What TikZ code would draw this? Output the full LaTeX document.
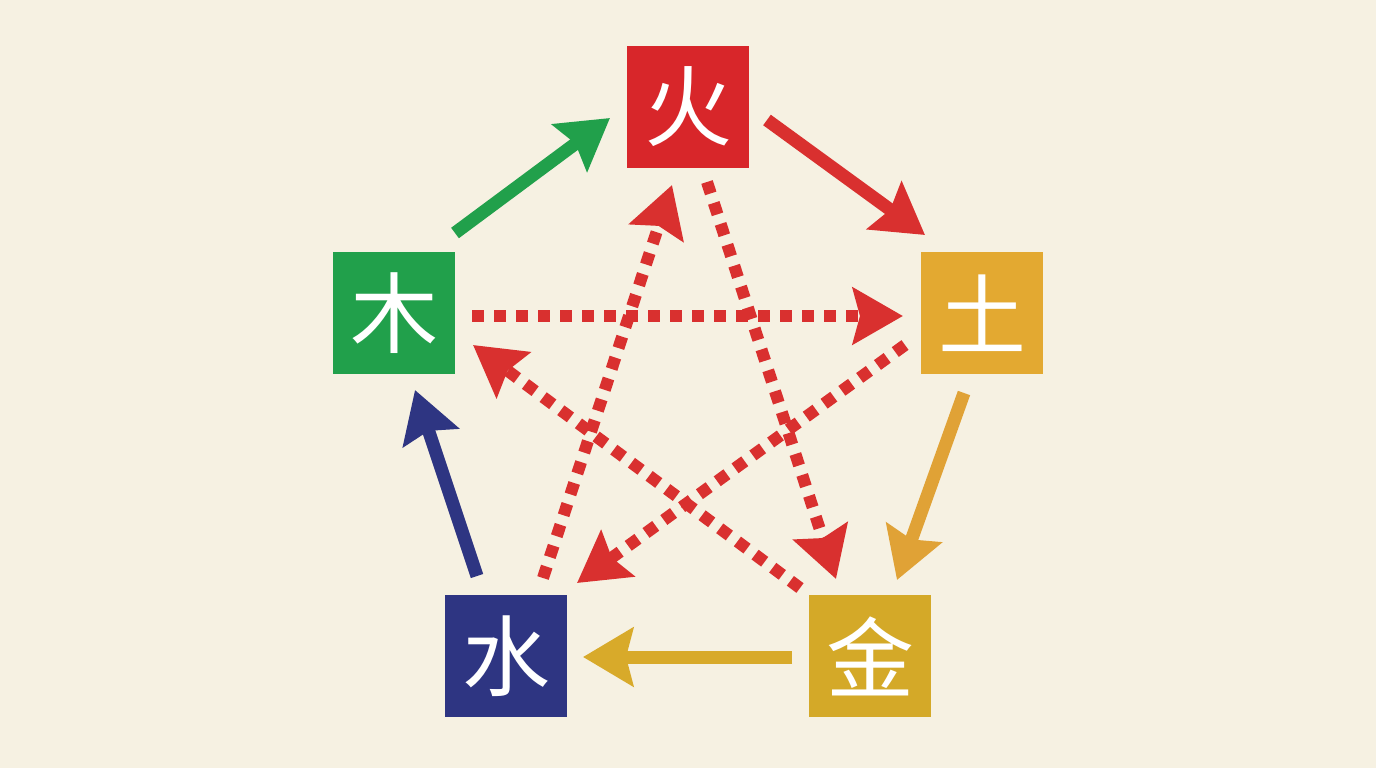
\documentclass[tikz,border=0pt]{standalone}
\usepackage{fontspec}
\newfontfamily\cjk{Noto Sans CJK SC}
\usetikzlibrary{arrows.meta,calc}
\definecolor{bg}{HTML}{F6F1E2}
\definecolor{firered}{HTML}{D8262A}
\definecolor{woodgreen}{HTML}{21A04B}
\definecolor{waternavy}{HTML}{2E3582}
\definecolor{earthgold}{HTML}{E3A931}
\definecolor{metalgold}{HTML}{D4A928}
\definecolor{arrred}{HTML}{D9302F}
\definecolor{arrearth}{HTML}{E0A236}
\definecolor{arrmetal}{HTML}{D8AA2A}
\tikzset{
  elem/.style={rectangle, minimum width=122pt, minimum height=122pt, inner sep=0pt,
    text=white, font=\cjk\fontsize{88}{88}\selectfont},
  gen/.style={line width=13pt, -{Stealth[length=50pt,width=58pt,inset=7pt]}},
  ctrl/.style={line width=12pt, arrred, dash pattern=on 12pt off 10pt,
    -{Stealth[length=50pt,width=56pt,inset=7pt]}},
}
\begin{document}
\begin{tikzpicture}[x=1pt,y=-1pt]
\fill[bg] (0,0) rectangle (1376,768);
\useasboundingbox (0,0) rectangle (1376,768);
\node[elem, fill=firered] (H) at (688,107) {火};
\node[elem, fill=earthgold] (T) at (982,313) {土};
\node[elem, fill=metalgold] (J) at (870,656) {金};
\node[elem, fill=waternavy] (S) at (506,656) {水};
\node[elem, fill=woodgreen] (M) at (394,313) {木};
% controlling cycle (dashed)
\draw[ctrl] ($(M)+(78,3)$) -- ($(T)+(-79,3)$);
\draw[ctrl] ($(T)+(-77,32)$) -- ($(S)+(71,-73)$);
\draw[ctrl] ($(S)+(37,-78)$) -- ($(H)+(-16,78)$);
\draw[ctrl] ($(H)+(19,75)$) -- ($(J)+(-34,-77)$);
\draw[ctrl] ($(J)+(-70,-68)$) -- ($(M)+(79,32)$);
% generating cycle
\draw[gen, woodgreen] ($(M)+(61,-80)$) -- ($(H)+(-78,11)$);
\draw[gen, arrred] ($(H)+(79,13)$) -- ($(T)+(-57,-78)$);
\draw[gen, arrearth] ($(T)+(-18,80)$) -- ($(J)+(27,-76)$);
\draw[gen, arrmetal] ($(J)+(-78,1)$) -- ($(S)+(77,1)$);
\draw[gen, waternavy] ($(S)+(-29,-80)$) -- ($(M)+(21,77)$);
\end{tikzpicture}
\end{document}
